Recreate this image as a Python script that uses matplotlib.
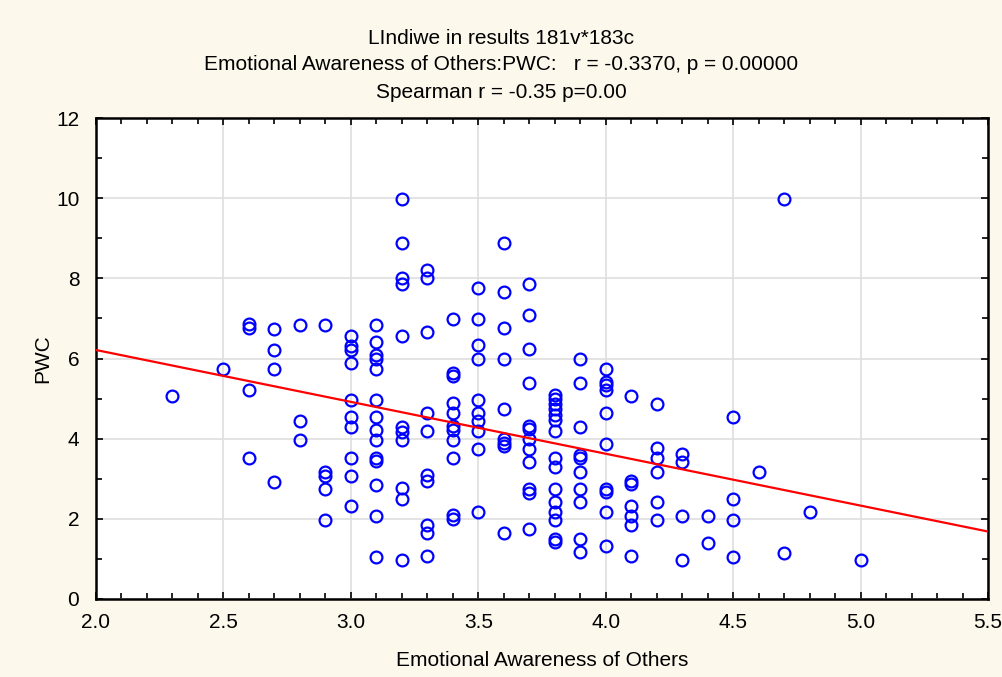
import numpy as np
import matplotlib
matplotlib.use("Agg")
from matplotlib import pyplot as plt
from matplotlib.ticker import MultipleLocator

# Emotional Awareness of Others levels and the PWC scores seen at each level
levels = [2.3, 2.5, 2.6, 2.7, 2.8, 2.9, 3.0, 3.1, 3.2, 3.3, 3.4, 3.5, 3.6,
          3.7, 3.8, 3.9, 4.0, 4.1, 4.2, 4.3, 4.4, 4.5, 4.6, 4.7, 4.8, 5.0]
pwc_by_level = [
    [5.06],
    [5.74],
    [6.85, 6.75, 5.21, 3.52],
    [6.74, 6.22, 5.73, 2.93],
    [6.84, 4.43, 3.96],
    [6.84, 3.18, 3.08, 2.75, 1.98],
    [6.56, 6.31, 6.21, 5.88, 4.97, 4.53, 4.29, 3.52, 3.08, 2.31],
    [6.84, 6.41, 6.08, 5.98, 5.74, 4.96, 4.54, 4.21, 3.96, 3.52, 3.45, 2.85, 2.08, 1.06],
    [9.98, 8.87, 8.0, 7.85, 6.56, 4.3, 4.17, 3.97, 2.77, 2.5, 0.98],
    [8.2, 8.0, 6.65, 4.64, 4.2, 3.1, 2.95, 1.85, 1.64, 1.07],
    [6.99, 5.64, 5.56, 4.88, 4.63, 4.31, 4.21, 3.96, 3.52, 2.1, 2.0],
    [7.77, 6.99, 6.33, 5.98, 4.97, 4.63, 4.43, 4.18, 3.75, 2.18],
    [8.87, 7.66, 6.75, 5.98, 4.73, 3.98, 3.89, 3.81, 1.64],
    [7.85, 7.08, 6.23, 5.4, 4.31, 4.23, 3.99, 3.75, 3.43, 2.75, 2.65, 1.74],
    [5.08, 4.98, 4.87, 4.73, 4.6, 4.47, 4.2, 3.52, 3.3, 2.75, 2.42, 2.18, 1.98, 1.5, 1.41],
    [5.98, 5.39, 4.29, 3.6, 3.52, 3.18, 2.75, 2.42, 1.5, 1.17],
    [5.74, 5.41, 5.33, 5.21, 4.63, 3.86, 2.75, 2.66, 2.17, 1.31],
    [5.07, 2.95, 2.86, 2.32, 2.08, 1.85, 1.07],
    [4.87, 3.77, 3.52, 3.18, 2.42, 1.98],
    [3.62, 3.42, 2.08, 0.98],
    [2.08, 1.4],
    [4.53, 2.5, 1.98, 1.06],
    [3.18],
    [9.97, 1.16],
    [2.18],
    [0.97],
]

# regression line
fit_intercept = 8.80
fit_slope = -1.294

title_lines = [
    "LIndiwe in results 181v*183c",
    "Emotional Awareness of Others:PWC:   r = -0.3370, p = 0.00000",
    "Spearman r = -0.35 p=0.00",
]
title_baselines_px = [44, 70, 98]

x = np.concatenate([[lv] * len(v) for lv, v in zip(levels, pwc_by_level)])
y = np.concatenate(pwc_by_level)

plt.rcParams["font.family"] = ["Liberation Sans", "DejaVu Sans"]
fs = 15

fig = plt.figure(figsize=(10.03, 6.77), dpi=100, facecolor="#fdf8ec")
ax = fig.add_axes([96 / 1003, 1 - 599 / 677, (988 - 96) / 1003, (599 - 118) / 677])
ax.set_facecolor("white")

ax.grid(True, color="#dedede", linewidth=1.2, zorder=0)
ax.set_axisbelow(True)

ax.plot(x, y, "o", mfc="none", mec="#0000ff", mew=1.6, ms=8.5, zorder=3)

xs = np.array([2.0, 5.5])
ax.plot(xs, fit_intercept + fit_slope * xs, color="#ff0000", lw=1.6, zorder=4)

ax.set_xlim(2.0, 5.5)
ax.set_ylim(0, 12)
ax.xaxis.set_major_locator(MultipleLocator(0.5))
ax.xaxis.set_minor_locator(MultipleLocator(0.1))
ax.yaxis.set_major_locator(MultipleLocator(2))
ax.yaxis.set_minor_locator(MultipleLocator(1))
ax.xaxis.set_major_formatter(plt.FormatStrFormatter("%.1f"))

ax.tick_params(which="both", direction="in", top=True, right=True, colors="black",
               labelsize=fs, width=1.2)
ax.tick_params(which="major", length=5)
ax.tick_params(axis="x", which="major", pad=10)
ax.tick_params(axis="y", which="major", pad=12)
ax.tick_params(which="minor", length=4)
for s in ax.spines.values():
    s.set_linewidth(1.8)
    s.set_color("black")

ax.set_xlabel("Emotional Awareness of Others", fontsize=fs, labelpad=14)
ax.set_ylabel("PWC", fontsize=fs, labelpad=3)

for t, row in zip(title_lines, title_baselines_px):
    fig.text(0.5, 1 - row / 677, t, ha="center", va="baseline", fontsize=fs)

fig.savefig("out.png", dpi=100, facecolor=fig.get_facecolor())
